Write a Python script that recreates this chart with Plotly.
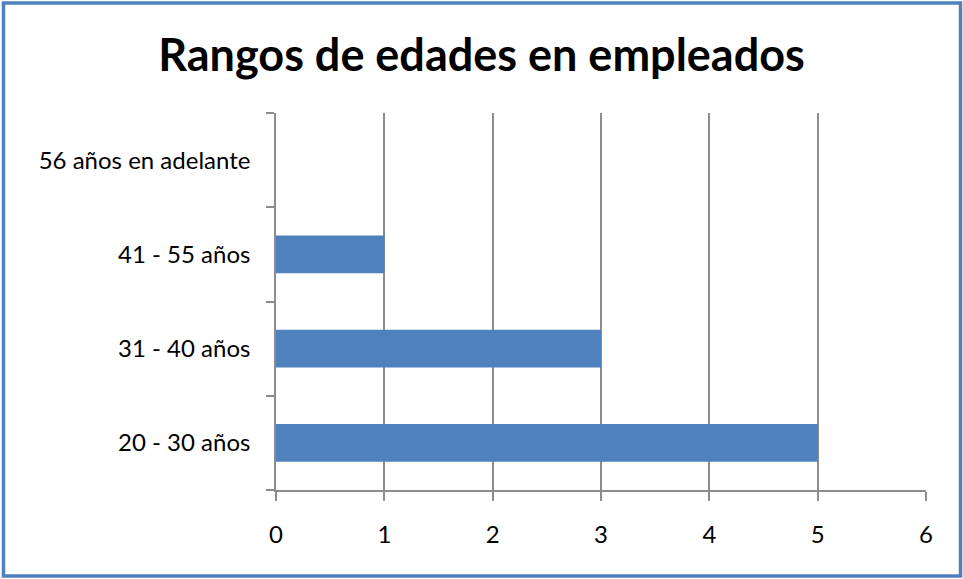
import plotly.graph_objects as go

# ==========================================
# DATA
# ==========================================

rangos = ["20 - 30 años", "31 - 40 años", "41 - 55 años", "56 años en adelante"]
empleados = [5, 3, 1, 0]
x_ticks = [0, 1, 2, 3, 4, 5, 6]

W, H = 963, 579
L, R, T, B = 276, 37, 113, 89
gris = "#8c8c8c"
azul = "#4F81BD"

fig = go.Figure(go.Bar(
    x=empleados,
    y=rangos,
    orientation="h",
    width=0.4,
    marker=dict(color=azul, line=dict(width=0)),
))

fig.update_layout(
    width=W,
    height=H,
    margin=dict(l=L, r=R, t=T, b=B),
    paper_bgcolor="white",
    plot_bgcolor="white",
    showlegend=False,
    font=dict(family="Lato", size=24, color="black"),
    title=dict(
        text="<b>Rangos de edades en empleados</b>",
        x=0.5,
        xanchor="center",
        y=1 - 55 / H,
        yanchor="middle",
        font=dict(family="Lato", size=45, color="black"),
    ),
)

fig.update_xaxes(
    range=[0, 6],
    tickvals=x_ticks,
    automargin=False,
    showgrid=True,
    gridcolor=gris,
    gridwidth=1.5,
    zeroline=False,
    showline=True,
    linecolor=gris,
    linewidth=1.5,
    ticks="outside",
    ticklen=9,
    tickcolor=gris,
    tickwidth=1.5,
    ticklabelstandoff=13,
)

fig.update_yaxes(
    type="category",
    categoryorder="array",
    categoryarray=rangos,
    range=[-0.5, 3.5],
    automargin=False,
    showgrid=False,
    zeroline=False,
    showline=True,
    linecolor=gris,
    linewidth=1.5,
    ticks="outside",
    tickson="boundaries",
    ticklen=8,
    tickcolor=gris,
    tickwidth=1.5,
    ticklabelstandoff=19,
)

# blue frame around the chart (pixel -> paper coords)
pw = W - L - R
ph = H - T - B
fig.add_shape(
    type="rect",
    xref="paper", yref="paper",
    x0=(3.5 - L) / pw, x1=(960.5 - L) / pw,
    y0=(H - B - 576) / ph, y1=(H - B - 3) / ph,
    line=dict(color=azul, width=3.5),
    fillcolor="rgba(0,0,0,0)",
    layer="above",
)

fig.write_html(
    "out.html",
    config={"displayModeBar": False},
    post_script="document.body.style.margin='0';document.body.style.overflow='hidden';",
)
